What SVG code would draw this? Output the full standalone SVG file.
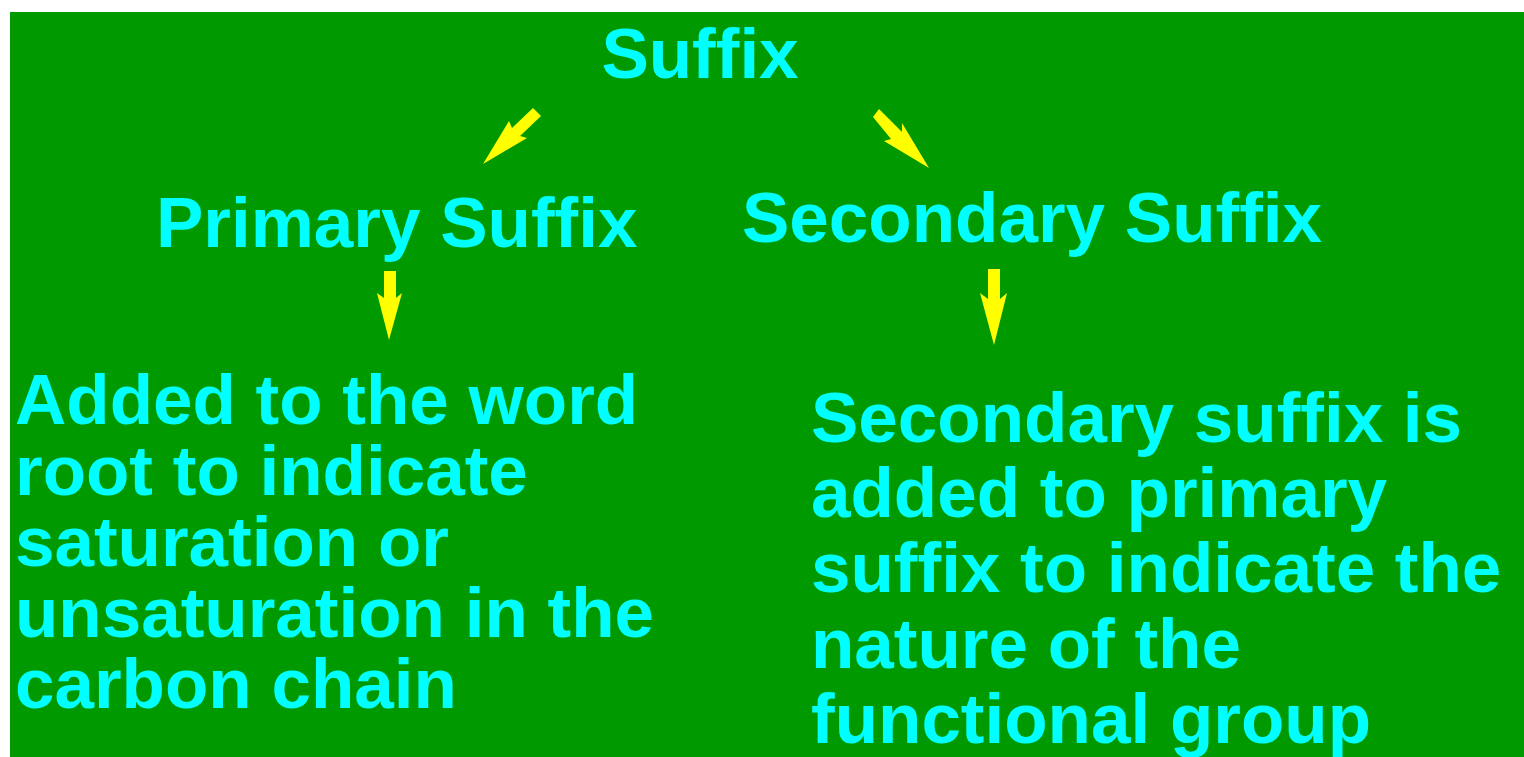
<svg xmlns="http://www.w3.org/2000/svg" width="1524" height="757" viewBox="0 0 1524 757">
  <style>
    .t { font-family: "Liberation Sans", Arial, Helvetica, sans-serif; font-weight: bold; font-size: 71px; fill: #00ffff; }
    .arrow { fill: #ffff00; stroke: none; }
  </style>
  <rect x="0" y="0" width="1524" height="757" fill="#ffffff"/>
  <rect x="10" y="12" width="1514" height="745" fill="#009900"/>

  <g id="suffix">
    <text class="t" x="700" y="78" text-anchor="middle">Suffix</text>
  </g>

  <g id="primary-suffix">
    <text class="t" x="156" y="247">Primary Suffix</text>
  </g>

  <g id="secondary-suffix">
    <text class="t" x="742" y="242">Secondary Suffix</text>
  </g>

  <g id="primary-desc">
    <text class="t" x="15" y="424">Added to the word</text>
    <text class="t" x="15" y="495">root to indicate</text>
    <text class="t" x="15" y="566">saturation or</text>
    <text class="t" x="15" y="637">unsaturation in the</text>
    <text class="t" x="15" y="708">carbon chain</text>
  </g>

  <g id="secondary-desc">
    <text class="t" x="811" y="442">Secondary suffix is</text>
    <text class="t" x="811" y="517">added to primary</text>
    <text class="t" x="811" y="592">suffix to indicate the</text>
    <text class="t" x="811" y="668">nature of the</text>
    <text class="t" x="811" y="743">functional group</text>
  </g>

  <g id="connectors">
    <polygon class="arrow" points="533,108 541,116 520,136 527,138 483,164 509,121 512,128"/>
    <polygon class="arrow" points="879,109 902,132 902,123 929,168 884,141 891,139 873,117"/>
    <polygon class="arrow" points="384,271 396,271 396,298 402,293 389,340 377,293 384,298"/>
    <polygon class="arrow" points="988,269 1000,269 1000,299 1007,293 994,345 980,293 988,299"/>
  </g>
</svg>
